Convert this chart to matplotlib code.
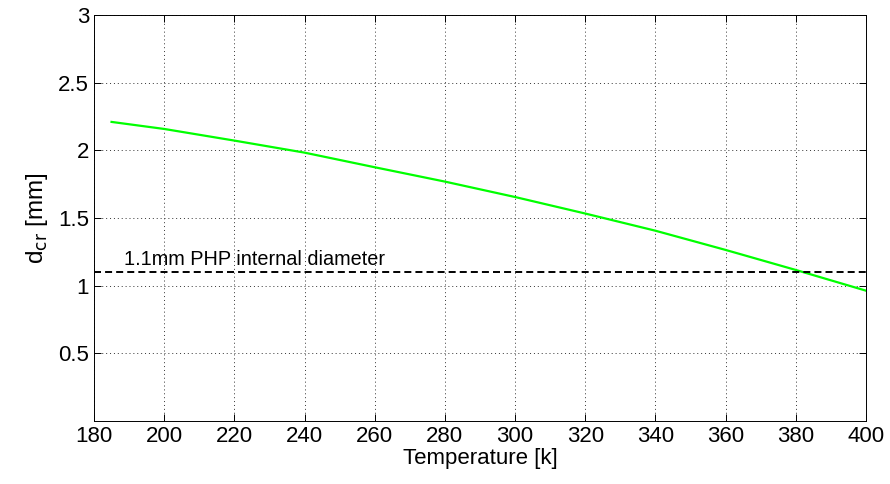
import numpy as np
import matplotlib
matplotlib.use("Agg")
import matplotlib.pyplot as plt

temperature = [185, 200, 220, 240, 260, 280, 300, 320, 340, 360, 380, 400]
d_cr = [2.21, 2.158, 2.072, 1.983, 1.875, 1.769, 1.655, 1.533, 1.406, 1.264, 1.116, 0.963]
php_diameter = 1.1

plt.rcParams['font.family'] = ['Liberation Sans', 'DejaVu Sans']

fig = plt.figure(figsize=(8.9, 4.84), dpi=100)
ax = fig.add_axes([94/890, 1-421/484, (866-94)/890, (421-15)/484])

ax.plot(temperature, d_cr, color=(0, 1, 0), lw=1.6)
ax.axhline(php_diameter, color='black', lw=1.4, ls=(0, (3.6, 2.1)))
ax.text(188.5, 1.155, '1.1mm PHP internal diameter', fontsize=14.3)

ax.set_xlim(180, 400)
ax.set_ylim(0, 3)
ax.set_xticks(np.arange(180, 401, 20))
ax.set_yticks([0.5, 1, 1.5, 2, 2.5, 3])
ax.set_yticklabels(['0.5', '1', '1.5', '2', '2.5', '3'])
ax.grid(True, ls=(0, (1, 3)), color='#333333', lw=0.7)
ax.tick_params(direction='in', length=5, top=True, right=True, labelsize=16, width=0.7)
for s in ax.spines.values():
    s.set_linewidth(0.7)

ax.set_xlabel('Temperature [k]', fontsize=16, labelpad=1)
ax.set_ylabel('d$_{\\mathrm{cr}}$ [mm]', fontsize=17.5, labelpad=6)

fig.savefig('out.png', dpi=100)
